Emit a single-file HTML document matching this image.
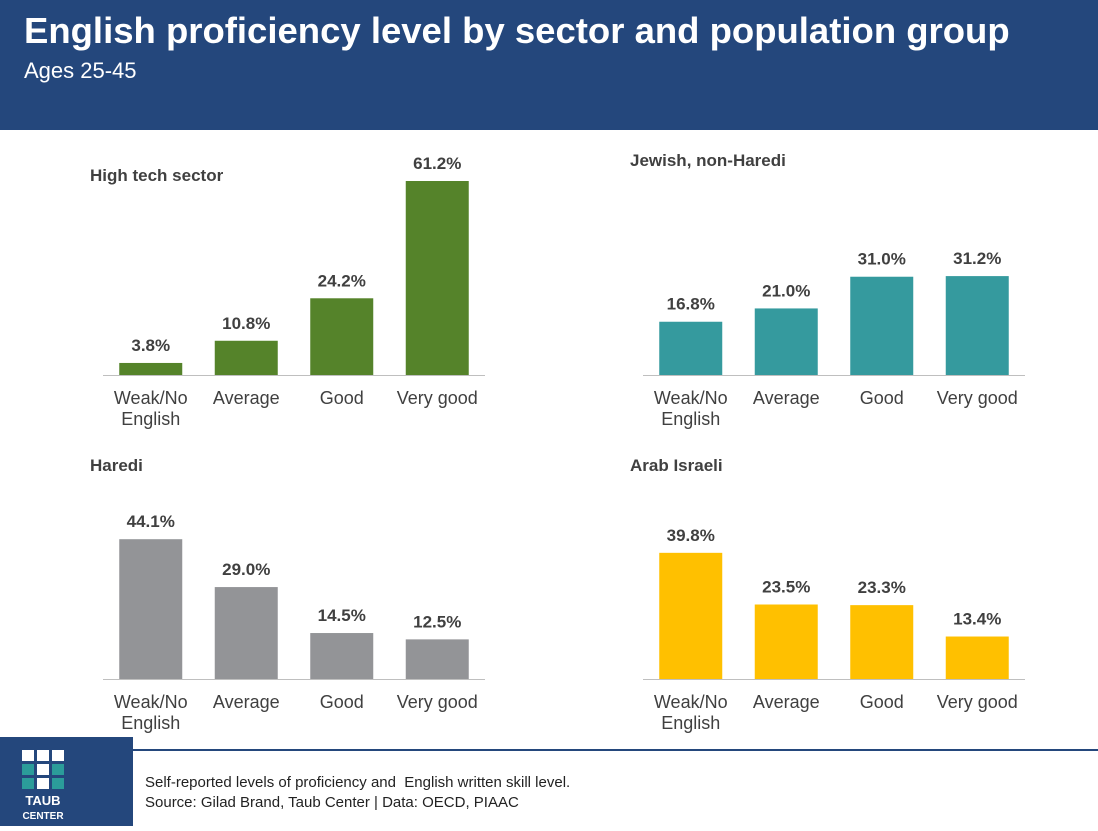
<!DOCTYPE html>
<html><head><meta charset="utf-8"><style>
body{margin:0;width:1098px;height:826px;background:#fff;font-family:"Liberation Sans",Arial,sans-serif;position:relative;overflow:hidden}
#hdr{position:absolute;left:0;top:0;width:1098px;height:130px;background:#24477c}
#t1{position:absolute;left:24px;top:10px;color:#fff;font-weight:bold;font-size:36.5px}
#t2{position:absolute;left:24px;top:58px;color:#fff;font-size:22px}
#logo{position:absolute;left:0;top:737px;width:133px;height:89px;background:#24477c}
#foot{position:absolute;left:145px;top:773px;font-size:15px;color:#222;line-height:20px}
#rule{position:absolute;left:133px;top:749px;width:965px;height:2px;background:#24477c}
</style></head><body>
<div id="hdr">
<div id="t1">English proficiency level by sector and population group</div>
<div id="t2">Ages 25-45</div></div>
<svg id="chart" width="1098" height="826" style="position:absolute;left:0;top:0"></svg>
<div id="rule"></div>
<div id="logo">
<svg width="133" height="89">
<g>
<rect x="22" y="13" width="12" height="11" fill="#fff"/><rect x="37" y="13" width="12" height="11" fill="#fff"/><rect x="52" y="13" width="12" height="11" fill="#fff"/>
<rect x="22" y="27" width="12" height="11" fill="#2b9c9a"/><rect x="37" y="27" width="12" height="11" fill="#fff"/><rect x="52" y="27" width="12" height="11" fill="#2b9c9a"/>
<rect x="22" y="41" width="12" height="11" fill="#2b9c9a"/><rect x="37" y="41" width="12" height="11" fill="#fff"/><rect x="52" y="41" width="12" height="11" fill="#2b9c9a"/>
<text x="43" y="68" fill="#fff" font-size="13" font-weight="bold" text-anchor="middle" font-family="Liberation Sans, sans-serif">TAUB</text>
<text x="43" y="82" fill="#fff" font-size="10" font-weight="bold" text-anchor="middle" font-family="Liberation Sans, sans-serif">CENTER</text>
</g></svg></div>
<div id="foot">Self-reported levels of proficiency and&nbsp; English written skill level.<br>Source: Gilad Brand, Taub Center | Data: OECD, PIAAC</div>
<script>
const categories=[["Weak/No","English"],["Average"],["Good"],["Very good"]];
const panelTitles=["High tech sector","Jewish, non-Haredi","Haredi","Arab Israeli"];
const highTech=[3.8,10.8,24.2,61.2];
const jewish=[16.8,21.0,31.0,31.2];
const haredi=[44.1,29.0,14.5,12.5];
const arab=[39.8,23.5,23.3,13.4];
const series=[highTech,jewish,haredi,arab];
const colors=["#55832a","#359a9e","#939497","#ffc000"];
const panels=[{x:103,base:375,tx:90,ty:181},{x:643,base:375,tx:630,ty:166},{x:103,base:679,tx:90,ty:471},{x:643,base:679,tx:630,ty:471}];
const svg=document.getElementById('chart');const NS="http://www.w3.org/2000/svg";
function mk(t,a){const e=document.createElementNS(NS,t);for(const k in a)e.setAttribute(k,a[k]);svg.appendChild(e);return e;}
const yScale=v=>v*3.17;const band=95.5,bw=63;
const xCenter=(p,i)=>p.x+band*(i+0.5);
panels.forEach((p,pi)=>{
 const tt=mk('text',{x:p.tx,y:p.ty,'font-size':17,'font-weight':'bold',fill:'#404040'});tt.textContent=panelTitles[pi];
 
 
 series[pi].forEach((v,i)=>{
  const h=yScale(v),cx=xCenter(p,i);
  const r=mk('rect',{x:cx-bw/2,y:p.base-h,width:bw,height:h,fill:colors[pi]});
  
  
  const l=mk('text',{x:cx,y:p.base-h-12,'font-size':17,'font-weight':'bold',fill:'#404040','text-anchor':'middle'});
  l.textContent=v.toFixed(1)+'%';
  
  
  categories[i].forEach((c,j)=>{
   const ct=mk('text',{x:cx,y:p.base+29+j*21,'font-size':18,fill:'#404040','text-anchor':'middle'});ct.textContent=c;
   
   
  });
 });
 const ax=mk('line',{x1:p.x,x2:p.x+band*4,y1:p.base+0.5,y2:p.base+0.5,stroke:'#bfbfbf','stroke-width':1});
 
 
});
</script>
</body></html>
